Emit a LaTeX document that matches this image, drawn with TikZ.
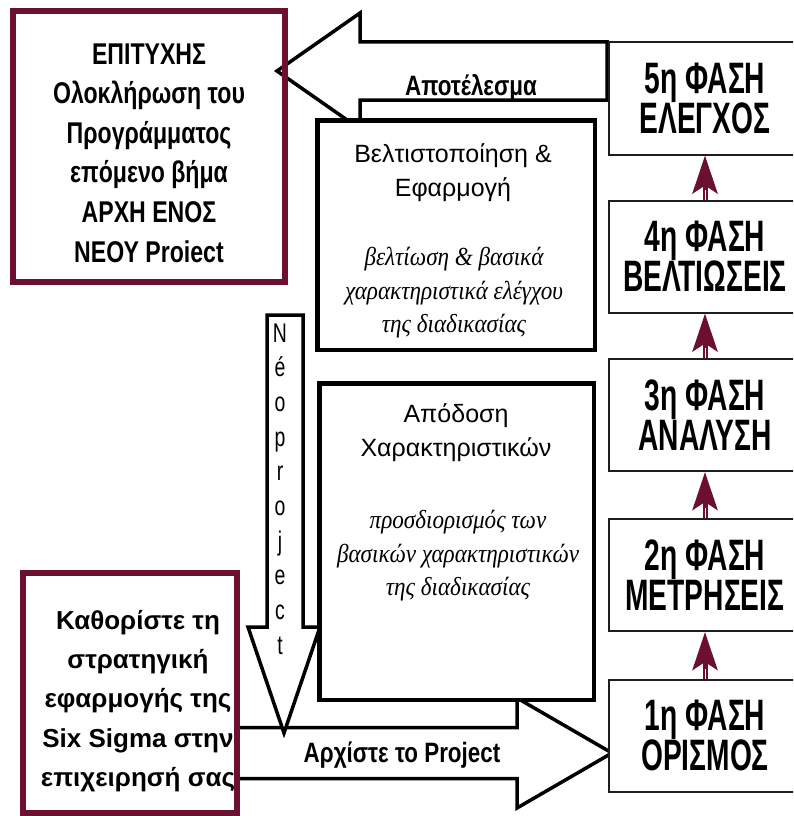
\documentclass[tikz,border=0pt]{standalone}
\usepackage{fontspec}
\setmainfont{Liberation Sans}
\newfontfamily\phasefont[FakeStretch=0.64]{Liberation Sans}
\newfontfamily\headfont[FakeStretch=0.77]{Liberation Sans}
\newfontfamily\captionfont[FakeStretch=0.8]{Liberation Sans}
\newfontfamily\narrowfont[FakeStretch=0.72]{Liberation Sans}
\newfontfamily\notefont[FakeStretch=0.89]{Liberation Serif}
\usetikzlibrary{arrows.meta}
\definecolor{wine}{RGB}{108,16,48}
\definecolor{frame}{RGB}{30,30,30}

\begin{document}
\begin{tikzpicture}[x=1pt,y=-1pt,
  blockarrow/.style={draw=black, line width=3.5pt, fill=white, line join=miter},
  bigbox/.style={draw=black, line width=4.5pt, fill=white, inner sep=0pt},
  phasebox/.style={draw=frame, line width=2pt, fill=white, inner sep=0pt,
    minimum width=192pt, minimum height=112pt, align=center,
    font=\phasefont\bfseries\fontsize{44}{40}\selectfont},
  goalbox/.style={draw=wine, line width=6pt, inner sep=0pt},
  goaltext/.style={align=center, inner sep=0pt,
    font=\headfont\bfseries\fontsize{30}{39.6}\selectfont},
  setuptext/.style={align=center, inner sep=0pt,
    font=\bfseries\fontsize{26}{39.2}\selectfont},
  titletext/.style={align=center, inner sep=0pt,
    font=\fontsize{25}{34}\selectfont},
  notetext/.style={align=center, inner sep=0pt,
    font=\notefont\itshape\fontsize{26}{33.5}\selectfont},
  arrowlabel/.style={anchor=base, inner sep=0pt,
    font=\captionfont\bfseries\fontsize{28}{30}\selectfont},
  letter/.style={anchor=base, inner sep=0pt,
    font=\narrowfont\fontsize{27}{30}\selectfont},
  stepflow/.style={draw=wine, line width=5pt,
    -{Stealth[length=38pt, width=25pt, inset=8pt]}},
  shaftline/.style={draw=white, line width=0.8pt}
]
\useasboundingbox (0,0) rectangle (793,816);
\clip (0,0) rectangle (793,816);

% block arrow: start the project
\coordinate (startTip) at (612,753);
\draw[blockarrow] (startTip) -- ++(-95,-55) -- ++(0,29.5) -- ++(-280,0)
  -- ++(0,51) -- ++(280,0) -- ++(0,29.5) -- cycle;

% block arrow: new project (pointing down)
\coordinate (newTip) at (284,733);
\draw[blockarrow] (newTip) -- ++(-36,-106) -- ++(19,0) -- ++(0,-312)
  -- ++(36,0) -- ++(0,312) -- ++(17,0) -- cycle;
\foreach \ch [count=\i] in {N,é,o,p,r,o,j,e,c,t}
  \node[letter] (nl\i) at (280,{342+34.7*(\i-1)}) {\ch};

% block arrow: result
\coordinate (resultTip) at (277,71);
\draw[blockarrow] (resultTip) -- ++(83,-58) -- ++(0,29) -- ++(247,0)
  -- ++(0,58) -- ++(-247,0) -- ++(0,29) -- cycle;

% central boxes
\node[bigbox, minimum width=277.5pt, minimum height=229.5pt] (improve) at (456,235) {};
\node[titletext] (improveTitle) at (453,172.5) {Βελτιστοποίηση \&\\Εφαρμογή};
\node[notetext] (improveNote) at (454,293) {βελτίωση \& βασικά\\χαρακτηριστικά ελέγχου\\της διαδικασίας};

\node[bigbox, minimum width=274.5pt, minimum height=316.5pt] (perform) at (456.5,541.5) {};
\node[titletext] (performTitle) at (456,432.5) {Απόδοση\\Χαρακτηριστικών};
\node[notetext] (performNote) at (458,556) {προσδιορισμός των\\βασικών χαρακτηριστικών\\της διαδικασίας};

% goal boxes
\node[goalbox, minimum width=272pt, minimum height=271pt] (goal) at (149,146.5) {};
\node[goaltext] (goalText) at (149,153) {ΕΠΙΤΥΧΗΣ\\Ολοκλήρωση του\\Προγράμματος\\επόμενο βήμα\\ΑΡΧΗ ΕΝΟΣ\\ΝΕΟΥ Proiect};

\node[goalbox, fill=white, minimum width=214pt, minimum height=240pt] (setup) at (130,693) {};
\node[setuptext] (setupText) at (138,701) {Καθορίστε τη\\στρατηγική\\εφαρμογής της\\Six Sigma στην\\επιχειρησή σας};

% phase column
\node[phasebox] (p5) at (705,98.5) {5η ΦΑΣΗ\\ΕΛΕΓΧΟΣ};
\node[phasebox] (p4) at (705,256.5) {4η ΦΑΣΗ\\ΒΕΛΤΙΩΣΕΙΣ};
\node[phasebox] (p3) at (705,415) {3η ΦΑΣΗ\\ΑΝΑΛΥΣΗ};
\node[phasebox] (p2) at (705,575) {2η ΦΑΣΗ\\ΜΕΤΡΗΣΕΙΣ};
\node[phasebox] (p1) at (705,735.5) {1η ΦΑΣΗ\\ΟΡΙΣΜΟΣ};

\foreach \a/\b in {p1/p2,p2/p3,p3/p4,p4/p5}{
  \draw[stepflow] (\a.north) -- (\b.south);
  \draw[shaftline] (\a.north) -- ++(0,-10);
}

% arrow captions
\node[arrowlabel] (resultLabel) at (471,95) {Αποτέλεσμα};
\node[arrowlabel] (startLabel) at (402,762) {Αρχίστε το Project};
\end{tikzpicture}
\end{document}
